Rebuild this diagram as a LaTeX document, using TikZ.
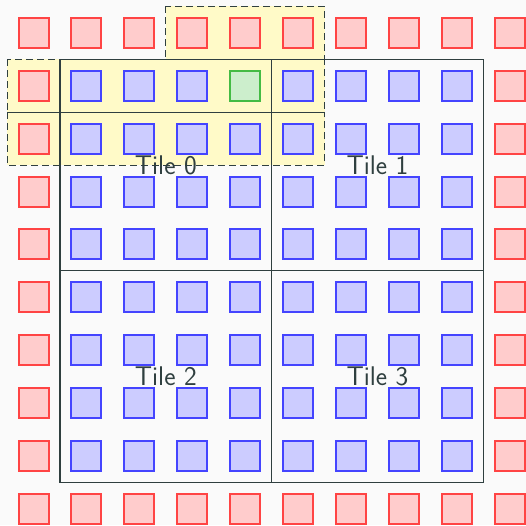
\documentclass[tikz,border=0pt]{standalone}
\usetikzlibrary{backgrounds}
\definecolor{bgc}{HTML}{FAFAFA}
\definecolor{halofill}{HTML}{FFFAC8}
\definecolor{redfill}{HTML}{FFCCCC}
\definecolor{redline}{HTML}{FF4444}
\definecolor{bluefill}{HTML}{CCCCFF}
\definecolor{blueline}{HTML}{4444FF}
\definecolor{greenfill}{HTML}{CCEECC}
\definecolor{greenline}{HTML}{44BB44}
\definecolor{tileline}{HTML}{2F3F3F}
\begin{document}
\begin{tikzpicture}[x=1pt,y=-1pt,
  cellbox/.style={draw, line width=2pt, minimum size=30pt, inner sep=0pt, outer sep=0pt},
  redcell/.style={cellbox, fill=redfill, draw=redline},
  bluecell/.style={cellbox, fill=bluefill, draw=blueline},
  greencell/.style={cellbox, fill=greenfill, draw=greenline},
  halo/.style={fill=halofill},
  haloedge/.style={draw=tileline, line width=1.1pt, dash pattern=on 7pt off 4pt},
  tilebox/.style={draw=tileline, line width=1.1pt},
  tilelabel/.style={text=tileline, font=\sffamily\fontsize{27}{30}\selectfont, inner sep=0pt}
]
\fill[bgc] (0,0) rectangle (526,525);
\useasboundingbox (0,0) rectangle (526,525);
\def\s{52.9}
\def\ox{60}
\def\oy{59.3}
% halo region
\fill[halo] (\ox+2*\s,\oy-\s) rectangle (\ox+5*\s,\oy);
\fill[halo] (\ox-\s,\oy) rectangle (\ox+5*\s,\oy+2*\s);
\draw[haloedge] (\ox+2*\s,\oy-\s) rectangle (\ox+5*\s,\oy);
\draw[haloedge] (\ox-\s,\oy) rectangle (\ox+5*\s,\oy+\s);
\draw[haloedge] (\ox-\s,\oy+\s) rectangle (\ox+5*\s,\oy+2*\s);
% cells
\foreach \i in {-1,...,8}{
  \foreach \j in {-1,...,8}{
    \pgfmathtruncatemacro{\ring}{(\i<0)||(\i>7)||(\j<0)||(\j>7)}
    \pgfmathtruncatemacro{\isgreen}{(\i==3)&&(\j==0)}
    \ifnum\ring=1
      \node[redcell] (c\i_\j) at ({\ox+(\i+0.5)*\s},{\oy+(\j+0.5)*\s}) {};
    \else
      \ifnum\isgreen=1
        \node[greencell] (c\i_\j) at ({\ox+(\i+0.5)*\s},{\oy+(\j+0.5)*\s}) {};
      \else
        \node[bluecell] (c\i_\j) at ({\ox+(\i+0.5)*\s},{\oy+(\j+0.5)*\s}) {};
      \fi
    \fi
  }
}
% tiles
\foreach \a/\b/\n in {0/0/0,1/0/1,0/1/2,1/1/3}{
  \draw[tilebox] ({\ox+\a*4*\s},{\oy+\b*4*\s}) rectangle ({\ox+(\a+1)*4*\s},{\oy+(\b+1)*4*\s});
  \node[tilelabel] (t\n) at ({\ox+(\a+0.5)*4*\s},{\oy+(\b+0.5)*4*\s}) {Tile \n};
}
\end{tikzpicture}
\end{document}
